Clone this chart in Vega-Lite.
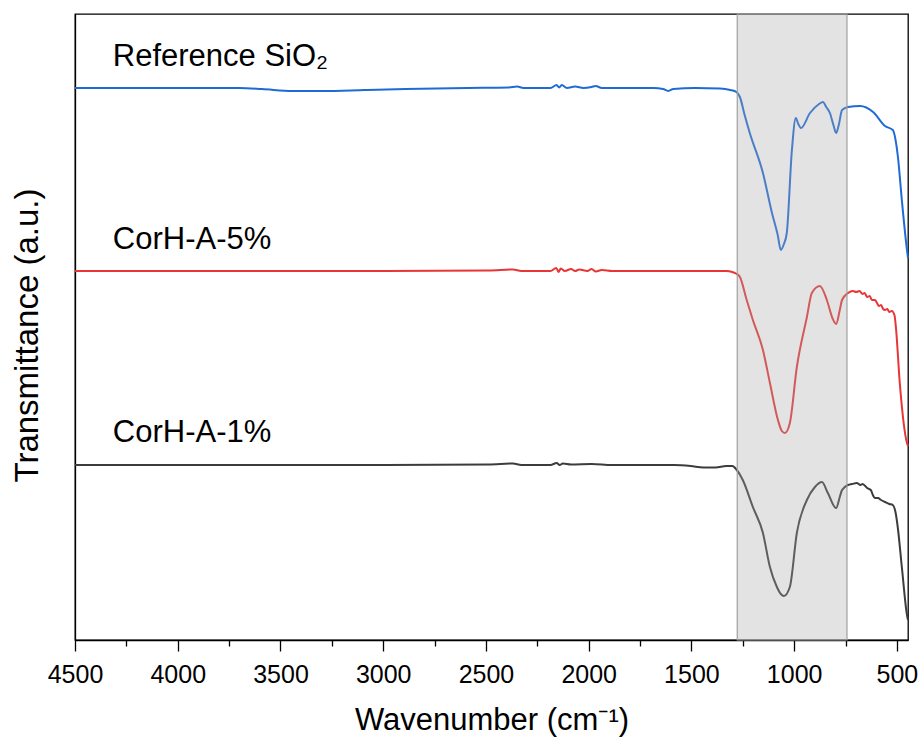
{
  "$schema": "https://vega.github.io/schema/vega-lite/v6.json",
  "width": 833,
  "height": 626,
  "autosize": "none",
  "padding": {"left": 75, "top": 14, "right": 12, "bottom": 100},
  "background": "white",
  "config": {
    "font": "Liberation Sans",
    "view": {"stroke": "#000", "strokeWidth": 1.3},
    "axis": {"grid": false, "domainColor": "#000", "tickColor": "#000", "labelColor": "#000", "titleColor": "#000", "labelFont": "Liberation Sans", "titleFont": "Liberation Sans", "titleFontWeight": "normal"}
  },
  "datasets": {
    "spectra": [
      {"s": "Reference SiO2", "w": 4500, "t": 552}, {"s": "Reference SiO2", "w": 4000, "t": 552}, {"s": "Reference SiO2", "w": 3700, "t": 552}, {"s": "Reference SiO2", "w": 3590, "t": 551}, {"s": "Reference SiO2", "w": 3443, "t": 549}, {"s": "Reference SiO2", "w": 3292, "t": 549}, {"s": "Reference SiO2", "w": 3090, "t": 550}, {"s": "Reference SiO2", "w": 2890, "t": 551}, {"s": "Reference SiO2", "w": 2590, "t": 552}, {"s": "Reference SiO2", "w": 2388, "t": 552.5}, {"s": "Reference SiO2", "w": 2348, "t": 553.5}, {"s": "Reference SiO2", "w": 2318, "t": 552}, {"s": "Reference SiO2", "w": 2186, "t": 552}, {"s": "Reference SiO2", "w": 2156, "t": 555}, {"s": "Reference SiO2", "w": 2144, "t": 552.5}, {"s": "Reference SiO2", "w": 2131, "t": 555}, {"s": "Reference SiO2", "w": 2106, "t": 552}, {"s": "Reference SiO2", "w": 2066, "t": 553.5}, {"s": "Reference SiO2", "w": 2026, "t": 552}, {"s": "Reference SiO2", "w": 1986, "t": 553}, {"s": "Reference SiO2", "w": 1966, "t": 554}, {"s": "Reference SiO2", "w": 1936, "t": 552}, {"s": "Reference SiO2", "w": 1886, "t": 552}, {"s": "Reference SiO2", "w": 1684, "t": 552}, {"s": "Reference SiO2", "w": 1638, "t": 551}, {"s": "Reference SiO2", "w": 1613, "t": 549}, {"s": "Reference SiO2", "w": 1588, "t": 551}, {"s": "Reference SiO2", "w": 1483, "t": 552}, {"s": "Reference SiO2", "w": 1361, "t": 551.5}, {"s": "Reference SiO2", "w": 1311, "t": 550}, {"s": "Reference SiO2", "w": 1281, "t": 548}, {"s": "Reference SiO2", "w": 1264, "t": 543}, {"s": "Reference SiO2", "w": 1241, "t": 525}, {"s": "Reference SiO2", "w": 1216, "t": 507}, {"s": "Reference SiO2", "w": 1152, "t": 467}, {"s": "Reference SiO2", "w": 1108, "t": 427}, {"s": "Reference SiO2", "w": 1080, "t": 405}, {"s": "Reference SiO2", "w": 1065, "t": 390}, {"s": "Reference SiO2", "w": 1050, "t": 396}, {"s": "Reference SiO2", "w": 1036, "t": 407}, {"s": "Reference SiO2", "w": 1011, "t": 490}, {"s": "Reference SiO2", "w": 992, "t": 522}, {"s": "Reference SiO2", "w": 980, "t": 516}, {"s": "Reference SiO2", "w": 967, "t": 512}, {"s": "Reference SiO2", "w": 923, "t": 527}, {"s": "Reference SiO2", "w": 879, "t": 536}, {"s": "Reference SiO2", "w": 860, "t": 538}, {"s": "Reference SiO2", "w": 844, "t": 533}, {"s": "Reference SiO2", "w": 826, "t": 527}, {"s": "Reference SiO2", "w": 809, "t": 515}, {"s": "Reference SiO2", "w": 796, "t": 507}, {"s": "Reference SiO2", "w": 783, "t": 515}, {"s": "Reference SiO2", "w": 767, "t": 530}, {"s": "Reference SiO2", "w": 738, "t": 533}, {"s": "Reference SiO2", "w": 679, "t": 534}, {"s": "Reference SiO2", "w": 616, "t": 528}, {"s": "Reference SiO2", "w": 558, "t": 514}, {"s": "Reference SiO2", "w": 520, "t": 510}, {"s": "Reference SiO2", "w": 495, "t": 483}, {"s": "Reference SiO2", "w": 476, "t": 440}, {"s": "Reference SiO2", "w": 451, "t": 390}, {"s": "Reference SiO2", "w": 446, "t": 382},
      {"s": "CorH-A-5%", "w": 4500, "t": 369}, {"s": "CorH-A-5%", "w": 4000, "t": 369}, {"s": "CorH-A-5%", "w": 3500, "t": 369}, {"s": "CorH-A-5%", "w": 3000, "t": 369}, {"s": "CorH-A-5%", "w": 2488, "t": 369.5}, {"s": "CorH-A-5%", "w": 2368, "t": 370.5}, {"s": "CorH-A-5%", "w": 2328, "t": 369}, {"s": "CorH-A-5%", "w": 2186, "t": 369}, {"s": "CorH-A-5%", "w": 2158, "t": 372}, {"s": "CorH-A-5%", "w": 2146, "t": 368}, {"s": "CorH-A-5%", "w": 2136, "t": 371.5}, {"s": "CorH-A-5%", "w": 2116, "t": 369}, {"s": "CorH-A-5%", "w": 2086, "t": 371}, {"s": "CorH-A-5%", "w": 2066, "t": 369}, {"s": "CorH-A-5%", "w": 2046, "t": 370.5}, {"s": "CorH-A-5%", "w": 2006, "t": 369}, {"s": "CorH-A-5%", "w": 1986, "t": 371}, {"s": "CorH-A-5%", "w": 1966, "t": 368.5}, {"s": "CorH-A-5%", "w": 1936, "t": 370}, {"s": "CorH-A-5%", "w": 1886, "t": 369}, {"s": "CorH-A-5%", "w": 1786, "t": 369}, {"s": "CorH-A-5%", "w": 1483, "t": 369}, {"s": "CorH-A-5%", "w": 1331, "t": 369}, {"s": "CorH-A-5%", "w": 1301, "t": 368}, {"s": "CorH-A-5%", "w": 1279, "t": 366}, {"s": "CorH-A-5%", "w": 1264, "t": 363}, {"s": "CorH-A-5%", "w": 1231, "t": 340}, {"s": "CorH-A-5%", "w": 1201, "t": 320}, {"s": "CorH-A-5%", "w": 1152, "t": 290}, {"s": "CorH-A-5%", "w": 1118, "t": 257}, {"s": "CorH-A-5%", "w": 1079, "t": 220}, {"s": "CorH-A-5%", "w": 1060, "t": 209}, {"s": "CorH-A-5%", "w": 1045, "t": 207}, {"s": "CorH-A-5%", "w": 1021, "t": 217}, {"s": "CorH-A-5%", "w": 987, "t": 273}, {"s": "CorH-A-5%", "w": 938, "t": 323}, {"s": "CorH-A-5%", "w": 914, "t": 347}, {"s": "CorH-A-5%", "w": 875, "t": 354}, {"s": "CorH-A-5%", "w": 841, "t": 340}, {"s": "CorH-A-5%", "w": 814, "t": 322}, {"s": "CorH-A-5%", "w": 796, "t": 316}, {"s": "CorH-A-5%", "w": 778, "t": 330}, {"s": "CorH-A-5%", "w": 767, "t": 340}, {"s": "CorH-A-5%", "w": 738, "t": 347}, {"s": "CorH-A-5%", "w": 714, "t": 349}, {"s": "CorH-A-5%", "w": 698, "t": 348}, {"s": "CorH-A-5%", "w": 682, "t": 349}, {"s": "CorH-A-5%", "w": 667, "t": 346}, {"s": "CorH-A-5%", "w": 657, "t": 347}, {"s": "CorH-A-5%", "w": 645, "t": 343}, {"s": "CorH-A-5%", "w": 632, "t": 344}, {"s": "CorH-A-5%", "w": 622, "t": 340}, {"s": "CorH-A-5%", "w": 607, "t": 340}, {"s": "CorH-A-5%", "w": 597, "t": 337}, {"s": "CorH-A-5%", "w": 587, "t": 334}, {"s": "CorH-A-5%", "w": 577, "t": 335}, {"s": "CorH-A-5%", "w": 567, "t": 331}, {"s": "CorH-A-5%", "w": 558, "t": 330}, {"s": "CorH-A-5%", "w": 547, "t": 331}, {"s": "CorH-A-5%", "w": 537, "t": 328}, {"s": "CorH-A-5%", "w": 525, "t": 329}, {"s": "CorH-A-5%", "w": 512, "t": 325}, {"s": "CorH-A-5%", "w": 505, "t": 313}, {"s": "CorH-A-5%", "w": 486, "t": 257}, {"s": "CorH-A-5%", "w": 451, "t": 197}, {"s": "CorH-A-5%", "w": 446, "t": 194},
      {"s": "CorH-A-1%", "w": 4500, "t": 175}, {"s": "CorH-A-1%", "w": 4000, "t": 175}, {"s": "CorH-A-1%", "w": 3500, "t": 175}, {"s": "CorH-A-1%", "w": 3000, "t": 175}, {"s": "CorH-A-1%", "w": 2488, "t": 175.5}, {"s": "CorH-A-1%", "w": 2368, "t": 176.5}, {"s": "CorH-A-1%", "w": 2328, "t": 175}, {"s": "CorH-A-1%", "w": 2186, "t": 175}, {"s": "CorH-A-1%", "w": 2156, "t": 177}, {"s": "CorH-A-1%", "w": 2141, "t": 175}, {"s": "CorH-A-1%", "w": 2126, "t": 176.5}, {"s": "CorH-A-1%", "w": 2086, "t": 175.5}, {"s": "CorH-A-1%", "w": 1986, "t": 176}, {"s": "CorH-A-1%", "w": 1886, "t": 175}, {"s": "CorH-A-1%", "w": 1786, "t": 175}, {"s": "CorH-A-1%", "w": 1584, "t": 175}, {"s": "CorH-A-1%", "w": 1503, "t": 174}, {"s": "CorH-A-1%", "w": 1442, "t": 172.5}, {"s": "CorH-A-1%", "w": 1382, "t": 172.5}, {"s": "CorH-A-1%", "w": 1331, "t": 174}, {"s": "CorH-A-1%", "w": 1301, "t": 174}, {"s": "CorH-A-1%", "w": 1279, "t": 170}, {"s": "CorH-A-1%", "w": 1250, "t": 160}, {"s": "CorH-A-1%", "w": 1201, "t": 133}, {"s": "CorH-A-1%", "w": 1152, "t": 107}, {"s": "CorH-A-1%", "w": 1118, "t": 73}, {"s": "CorH-A-1%", "w": 1084, "t": 53}, {"s": "CorH-A-1%", "w": 1065, "t": 46}, {"s": "CorH-A-1%", "w": 1050, "t": 44}, {"s": "CorH-A-1%", "w": 1021, "t": 53}, {"s": "CorH-A-1%", "w": 987, "t": 107}, {"s": "CorH-A-1%", "w": 938, "t": 140}, {"s": "CorH-A-1%", "w": 899, "t": 153}, {"s": "CorH-A-1%", "w": 865, "t": 158}, {"s": "CorH-A-1%", "w": 836, "t": 147}, {"s": "CorH-A-1%", "w": 796, "t": 132}, {"s": "CorH-A-1%", "w": 778, "t": 143}, {"s": "CorH-A-1%", "w": 767, "t": 150}, {"s": "CorH-A-1%", "w": 738, "t": 155}, {"s": "CorH-A-1%", "w": 718, "t": 156}, {"s": "CorH-A-1%", "w": 695, "t": 157}, {"s": "CorH-A-1%", "w": 677, "t": 155}, {"s": "CorH-A-1%", "w": 667, "t": 156}, {"s": "CorH-A-1%", "w": 645, "t": 152}, {"s": "CorH-A-1%", "w": 627, "t": 150}, {"s": "CorH-A-1%", "w": 617, "t": 145}, {"s": "CorH-A-1%", "w": 607, "t": 142}, {"s": "CorH-A-1%", "w": 592, "t": 142}, {"s": "CorH-A-1%", "w": 577, "t": 140}, {"s": "CorH-A-1%", "w": 558, "t": 138}, {"s": "CorH-A-1%", "w": 537, "t": 136}, {"s": "CorH-A-1%", "w": 520, "t": 135}, {"s": "CorH-A-1%", "w": 507, "t": 128}, {"s": "CorH-A-1%", "w": 496, "t": 113}, {"s": "CorH-A-1%", "w": 476, "t": 73}, {"s": "CorH-A-1%", "w": 451, "t": 25}, {"s": "CorH-A-1%", "w": 446, "t": 20}
    ],
    "band": [{"w1": 1277, "w2": 743}],
    "labels": [
      {"label": "Reference SiO₂", "w": 4316, "t": 574},
      {"label": "CorH-A-5%", "w": 4316, "t": 391},
      {"label": "CorH-A-1%", "w": 4316, "t": 198}
    ]
  },
  "layer": [
    {
      "data": {"name": "spectra"},
      "mark": {"type": "line", "strokeWidth": 2, "interpolate": "monotone"},
      "encoding": {
        "x": {"field": "w", "type": "quantitative", "scale": {"domain": [446, 4500], "reverse": true, "nice": false, "zero": false},
          "axis": {"values": [4500, 4250, 4000, 3750, 3500, 3250, 3000, 2750, 2500, 2250, 2000, 1750, 1500, 1250, 1000, 750, 500],
            "format": "d",
            "labelExpr": "datum.value % 500 === 0 ? datum.label : ''",
            "labelFontSize": 25, "tickSize": {"condition": {"test": "datum.value % 500 === 0", "value": 11}, "value": 6},
            "tickWidth": 1.3, "domainWidth": 1.3, "labelPadding": 11, "labelFlush": false, "labelOverlap": false,
            "title": "Wavenumber (cm⁻¹)", "titleFontSize": 31, "titlePadding": 18}},
        "y": {"field": "t", "type": "quantitative", "scale": {"domain": [0, 626], "nice": false, "zero": false},
          "axis": {"labels": false, "ticks": false, "domainWidth": 1.3, "title": "Transmittance (a.u.)", "titleFontSize": 33, "titlePadding": 31, "titleY": 321, "titleAlign": "center"}},
        "color": {"field": "s", "type": "nominal", "legend": null,
          "scale": {"domain": ["Reference SiO2", "CorH-A-5%", "CorH-A-1%"], "range": ["#1f6bd6", "#e83535", "#3c3c3c"]}},
        "detail": {"field": "s"}
      }
    },
    {
      "data": {"name": "band"},
      "mark": {"type": "rect", "fill": "#a8a8a8", "fillOpacity": 0.32, "stroke": "#a0a0a0", "strokeWidth": 1.2},
      "encoding": {
        "x": {"field": "w1", "type": "quantitative"},
        "x2": {"field": "w2"}
      }
    },
    {
      "data": {"name": "labels"},
      "mark": {"type": "text", "align": "left", "baseline": "alphabetic", "fontSize": 31, "font": "Liberation Sans", "color": "#000"},
      "encoding": {
        "x": {"field": "w", "type": "quantitative"},
        "y": {"field": "t", "type": "quantitative"},
        "text": {"field": "label"}
      }
    }
  ]
}
